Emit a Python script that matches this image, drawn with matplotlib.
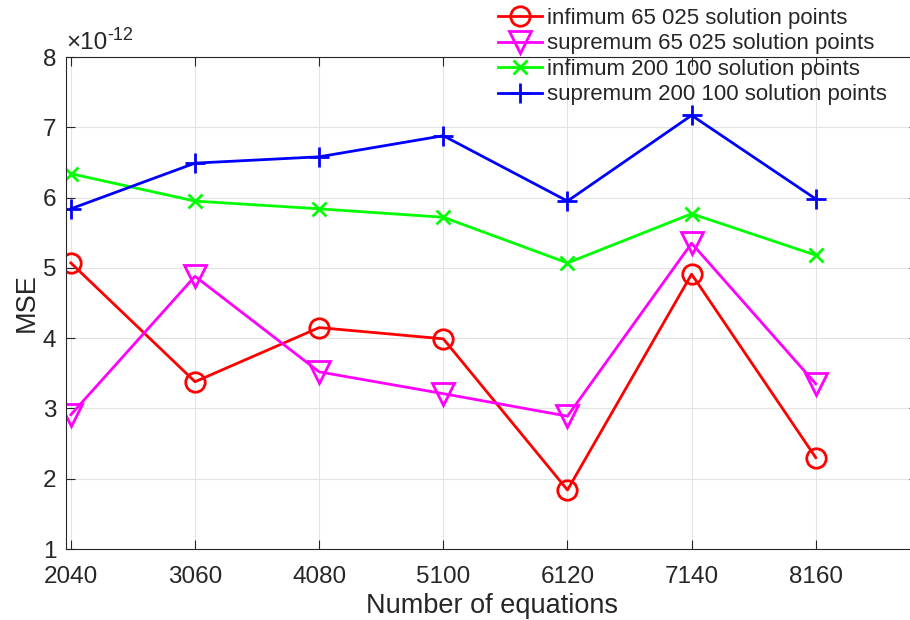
import matplotlib
matplotlib.use("Agg")
import matplotlib.pyplot as plt
import numpy as np

plt.rcParams['font.family'] = ['Liberation Sans', 'DejaVu Sans']

equations = [2040, 3060, 4080, 5100, 6120, 7140, 8160]
inf_65025 = [5.07, 3.38, 4.15, 3.99, 1.84, 4.91, 2.30]
sup_65025 = [2.91, 4.88, 3.52, 3.21, 2.89, 5.35, 3.35]
inf_200100 = [6.34, 5.95, 5.84, 5.72, 5.07, 5.77, 5.18]
sup_200100 = [5.84, 6.49, 6.58, 6.88, 5.95, 7.17, 5.98]
yticks = [1, 2, 3, 4, 5, 6, 7, 8]
labels = ["infimum 65 025 solution points", "supremum 65 025 solution points",
          "infimum 200 100 solution points", "supremum 200 100 solution points"]

fig = plt.figure(figsize=(9.1, 6.2), dpi=100)
W, H = 910, 620
ax = fig.add_axes([66 / W, 1 - 549 / H, (918 - 66) / W, (549 - 57) / H])

lw = 2.0
x = np.array(equations)
ax.plot(x, inf_65025, color='#ff0000', lw=lw, marker='o', ms=14,
        mfc='none', mew=lw, label=labels[0])
ax.plot(x, sup_65025, color='#ff00ff', lw=lw, marker='v', ms=16,
        mfc='none', mew=lw, label=labels[1])
ax.plot(x, inf_200100, color='#00ff00', lw=lw, marker='x', ms=10,
        mew=lw, label=labels[2])
ax.plot(x, sup_200100, color='#0000ff', lw=lw, marker='+', ms=15,
        mew=lw, label=labels[3])

ax.set_xlim(2000, 9000)
ax.set_ylim(1, 8)
ax.set_xticks(equations)
ax.set_yticks(yticks)

ax.grid(True, color='#e3e3e3', lw=0.8)
ax.set_axisbelow(True)
for s in ax.spines.values():
    s.set_color('#262626')
    s.set_linewidth(0.8)
ax.tick_params(direction='in', length=6.5, width=0.8, colors='#262626',
               labelsize=17.5, top=True, right=True, labelcolor='#262626')
ax.tick_params(axis='x', pad=12)
ax.tick_params(axis='y', pad=7)
ax.set_xlabel("Number of equations", fontsize=19.5, color='#262626', labelpad=4)
ax.set_ylabel("MSE", fontsize=19.5, color='#262626', labelpad=2)

# exponent label (values are in units of 1e-12)
ax.text(0.0, 1.006, "\u00d710", transform=ax.transAxes, fontsize=17.5,
        color='#262626', ha='left', va='bottom')
ax.text(0.049, 1.027, "-12", transform=ax.transAxes, fontsize=13,
        color='#262626', ha='left', va='bottom')

leg = fig.legend(loc='upper left', bbox_to_anchor=(498 / W, 1 - 8 / H), frameon=False,
                 fontsize=16, handlelength=2.0, handletextpad=0.2, labelspacing=0.2,
                 borderaxespad=0, borderpad=0)
for t in leg.get_texts():
    t.set_color('#262626')

fig.savefig("out.png", dpi=100)
